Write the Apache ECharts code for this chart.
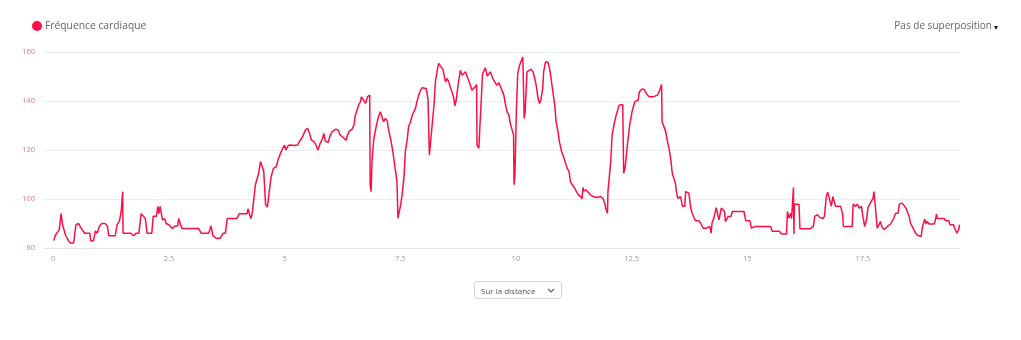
<!DOCTYPE html>
<html>
<head>
<meta charset="utf-8">
<script src="https://cdn.jsdelivr.net/npm/echarts@6/dist/echarts.min.js"></script>
<style>
  html, body { margin: 0; padding: 0; background: #fff; }
  #chart { width: 1021px; height: 340px; }
  #mode {
    position: absolute; left: 474px; top: 281px; width: 88px; height: 18px;
    font-family: "Open Sans", sans-serif; font-size: 8px; color: #555;
    border: 1px solid #d4d4d4; border-radius: 3px; background-color: #fff; padding: 0 0 0 6px;
    -webkit-appearance: none; appearance: none;
    background-image: url("data:image/svg+xml;utf8,<svg xmlns='http://www.w3.org/2000/svg' width='8' height='5'><path d='M1 1 L4 4 L7 1' fill='none' stroke='%23666' stroke-width='1.2'/></svg>");
    background-repeat: no-repeat; background-position: right 6px center;
  }
</style>
</head>
<body>
<div id="chart"></div>
<select id="mode"><option>Sur la distance</option><option>Sur la durée</option></select>
<script>
// ---- data (distance in km, heart rate in bpm) ----
const seriesName = 'Fréquence cardiaque';
const overlayLabel = 'Pas de superposition';
const xTickValues = [0, 2.5, 5, 7.5, 10, 12.5, 15, 17.5];
const yTickMin = 80, yTickMax = 160, yTickStep = 20;

const distA = [0.01,0.04,0.08,0.13,0.17,0.20,0.24,0.27,0.33,0.37,
0.44,0.49,0.55,0.59,0.63,0.68,0.79,0.81,0.87,0.91,
0.95,0.98,1.00,1.05,1.12,1.17,1.20,1.34,1.38,1.43,
1.47,1.50,1.51,1.67,1.74,1.79,1.85,1.90,1.95,1.99,
2.03,2.13,2.16,2.23,2.26,2.28,2.31,2.34,2.36,2.41,
2.44,2.50,2.57,2.64,2.69,2.71,2.75,2.78,3.14,3.20,
3.36,3.41,3.45,3.48,3.52,3.61,3.67,3.72,3.76,3.97,
4.02,4.19,4.21,4.24,4.27,4.30,4.34,4.37,4.41,4.44,
4.48,4.51,4.55,4.59,4.63,4.66,4.71,4.76,4.82,4.86,
4.91,4.96,5.00,5.03,5.08,5.13,5.20,5.23,5.28,5.34,
5.39,5.45,5.50,5.54,5.58,5.64,5.68,5.72,5.77,5.82,
5.85,5.88,5.94,5.99,6.03,6.07,6.11,6.16,6.20,6.25,
6.29,6.33,6.36,6.40,6.46,6.50,6.53,6.57,6.60,6.64,6.66];
const hrA = [83,85,85,87.5,94,89.5,89.5,85,83,82,
82,89.5,90,88.4,88,86,86,83,83,87,
86,86,89,90,90,89,85,85,89.5,91,
95,103,86,86,85,86,86,94,93,92,
86,86,93,93,97,94,97,97,91.5,92,
90,89.5,88,89,89,92,91.5,88,88,86,
86,89,85,85,84,84,86,86,92,92,
94,94,96,94,92,94,94,105.8,108.5,110.5,
115.3,115.3,111.2,97.6,96.7,101.7,109.2,112.5,113.2,116,
118.6,120.7,122,120,121.8,122,121.8,121,122,124,
125.4,128.1,128.8,126.8,124,123.4,122,120,122.7,124.7,
126.8,123.7,123,126.1,127.5,126.8,128.5,128.1,126.1,125.4,
125.8,124,126.1,127.7,128.5,130.2,134.2,134.2,138.3,139.7,141.7];

const distB = [6.71,6.75,6.79,6.82,6.84,6.85,6.87,6.89,6.93,6.98,
7.02,7.07,7.11,7.14,7.18,7.22,7.25,7.29,7.34,7.38,
7.43,7.45,7.47,7.51,7.54,7.58,7.61,7.65,7.68,7.72,
7.76,7.79,7.83,7.86,7.90,7.94,7.97,8.01,8.06,8.10,
8.13,8.15,8.19,8.23,8.26,8.30,8.33,8.37,8.42,8.44,
8.48,8.51,8.55,8.59,8.62,8.66,8.68,8.71,8.75,8.80,
8.84,8.87,8.91,8.95,8.98,9.02,9.05,9.09,9.12,9.15,
9.16,9.20,9.22,9.26,9.28,9.31,9.34,9.38,9.41,9.45,
9.49,9.52,9.56,9.59,9.63,9.67,9.70,9.74,9.77,9.81,
9.85,9.88,9.92,9.95,9.96,9.98,10.01,10.04,10.08,10.11,
10.15,10.16,10.18,10.20,10.24,10.28,10.33,10.37,10.40,10.44,
10.48,10.51,10.54,10.58,10.60,10.64,10.69,10.73,10.76,10.80,
10.84,10.87,10.91,10.94,10.99,11.04,11.07,11.11,11.15,11.18,
11.22,11.27,11.31,11.35,11.40,11.43,11.45,11.47,11.52,11.56,
11.61,11.67,11.71,11.74,11.78,11.83,11.88,11.92,11.95,11.98,
11.99,12.02,12.05,12.08,12.12,12.15,12.19,12.23,12.26,12.31,
12.33,12.36,12.41,12.46,12.51,12.57,12.61,12.64,12.67,12.72,
12.77,12.80,12.84,12.88,12.91,12.96,13.00,13.06,13.11,13.15,
13.16,13.20,13.24,13.27,13.31,13.35,13.38,13.42,13.45];
const hrB = [140.3,139,141.7,142.4,142.4,105.8,103,115.3,124.7,129.5,
132.9,135.6,135.9,131.5,132.9,131.8,128.1,124.7,119.3,113.9,
107.1,92.2,92.9,97.6,101.7,108.5,119.3,124,129.5,131.3,
134.2,134.9,137,139.7,142.4,144.4,145.4,145.1,145.1,141,
118,118.6,130.2,138.3,147.8,152.5,155.3,154.6,153,153.2,
147.8,149.2,147.8,145.1,143.7,141,138,140.3,146.4,152.5,
150.5,149.8,151.9,149.8,148.5,147.8,144.4,143.7,145.8,146.7,
122,120.7,128.8,143.7,151.2,151.2,153.5,150.2,149.8,151.9,
149.8,148.5,148.1,146.4,147.5,145.8,146.2,142.4,139,135.6,
134.2,130.8,128.1,126.1,105.8,109.8,135.6,151.2,154.6,155.3,
158,158.6,132.9,135.6,151.9,152.5,153,151.9,149.8,146.4,
141,139,140.3,145.1,151.9,155.9,155.9,153.2,149.2,143.7,
138.3,131.5,127.5,123.4,119.3,116.6,116,112.5,111.2,107.1,
105.8,104.4,103,101.7,101,100.1,104.7,103.3,103.7,103,
101.7,101,101.7,100.6,101,101,100.3,98.3,95.6,94.2,
103,103,115.3,126.1,130.2,132.9,135.6,138.3,139,138.6,
110.5,112.5,122,130.2,135.6,139.7,139,140.3,143.7,144.8,
144.8,143.7,142.6,141.7,141,141.7,141,142.4,144.4,146.7,
131.5,132.2,127.5,124,120.7,116,110.5,109.8,106.4];

const distC = [13.47,13.50,13.53,13.56,13.59,13.60,13.65,13.67,13.70,13.74,
13.78,13.81,13.85,13.88,13.96,13.99,14.03,14.05,14.12,14.15,
14.19,14.22,14.24,14.28,14.30,14.33,14.35,14.39,14.41,14.44,
14.48,14.51,14.53,14.57,14.59,14.65,14.68,14.93,14.97,15.06,
15.09,15.13,15.17,15.51,15.54,15.70,15.74,15.85,15.87,15.90,
15.94,15.96,15.99,16.00,16.01,16.02,16.12,16.14,16.37,16.43,
16.46,16.52,16.57,16.64,16.67,16.71,16.74,16.78,16.82,16.85,
16.88,16.91,17.02,17.06,17.08,17.27,17.29,17.34,17.38,17.42,
17.47,17.50,17.54,17.58,17.61,17.65,17.68,17.72,17.74,17.76,
17.80,17.81,17.85,17.88,17.91,17.96,17.99,18.03,18.07,18.10,
18.17,18.21,18.26,18.29,18.32,18.35,18.39,18.43,18.46,18.50,
18.53,18.57,18.60,18.64,18.68,18.71,18.76,18.79,18.82,18.84,
18.87,18.89,18.93,19.04,19.07,19.09,19.11,19.26,19.29,19.36,
19.38,19.46,19.48,19.53,19.57,19.59];
const hrC = [103,100.3,99.7,101,100.3,97,97,103,103.7,102.4,
96.3,94.2,93.6,91.1,91.1,90.2,89.5,88.1,88.1,88.8,
88.8,86.1,90.2,92.2,91.5,96.5,96.3,91.5,90.8,96.3,
96.7,94.9,90.8,90.8,92.9,92.9,94.9,94.9,91.1,91.1,
88.1,88.1,88.8,88.8,86.8,86.8,85.7,85.7,94.9,92.2,
94.2,92,92,104.7,85.7,97.9,97.9,87.9,87.9,88.8,
92.9,93.6,92.5,92,92.9,101,102.8,103,97,101,
100.3,97,97,94.2,88.8,88.8,97.9,97,97.9,96.3,
97,92.9,88.8,91.5,96.5,97,99,100.3,103,99,
99,88.1,89.5,90.8,88.8,87.5,86.8,88.8,88.8,89.8,
92.2,94.2,94.2,97.9,98.7,98.3,97.4,96.3,94.9,92.9,
90.2,89.5,87.5,86.1,85.2,84.7,84.7,88.8,88.8,91.8,
89.8,90.8,89.8,89.8,91.5,93.8,92,92,91.1,91.1,
89.5,89.5,88.4,86.1,87.5,89.5];

const distanceKm = distA.concat(distB, distC);
const heartRate = hrA.concat(hrB, hrC);
const points = distanceKm.map((d, i) => [d, heartRate[i]]);

const lineColor = '#fb0f45';
const chart = echarts.init(document.getElementById('chart'), null, { renderer: 'canvas' });
chart.setOption({
  animation: false,
  textStyle: { fontFamily: '"Open Sans", sans-serif' },
  legend: {
    left: 32, top: 21, padding: 0,
    icon: 'circle', itemWidth: 10, itemHeight: 10, itemGap: 10,
    textStyle: { color: '#666', fontSize: 10.3, padding: [0, 0, 0, -2], fontFamily: '"Open Sans", sans-serif' },
    data: [seriesName]
  },
  graphic: [
    { type: 'text', right: 29, top: 21,
      style: { text: overlayLabel, fill: '#666', fontSize: 10, fontFamily: '"Open Sans", sans-serif' } },
    { type: 'text', right: 23, top: 24,
      style: { text: '▾', fill: '#222', fontSize: 8, fontFamily: 'DejaVu Sans' } }
  ],
  grid: { left: 44, right: 61, top: 52, bottom: 92 },
  xAxis: {
    type: 'value', min: -0.2, max: 19.6,
    axisLine: { show: true, lineStyle: { color: '#e2e5ec', width: 1 } },
    axisTick: { show: false },
    splitLine: { show: false },
    axisLabel: { customValues: xTickValues, color: '#9a9a9a', fontSize: 7.5, margin: 7,
      fontFamily: '"Open Sans", sans-serif' }
  },
  yAxis: {
    type: 'value', min: yTickMin, max: yTickMax, interval: yTickStep,
    axisLine: { show: false }, axisTick: { show: false },
    splitLine: { lineStyle: { color: '#ececec', width: 1 } },
    axisLabel: { color: '#f26d8e', fontSize: 7.5, margin: 9, fontFamily: '"Open Sans", sans-serif' }
  },
  series: [{
    name: seriesName, type: 'line', data: points,
    showSymbol: false, symbol: 'circle',
    lineStyle: { color: lineColor, width: 1.5 },
    itemStyle: { color: lineColor }
  }]
});
</script>
</body>
</html>
